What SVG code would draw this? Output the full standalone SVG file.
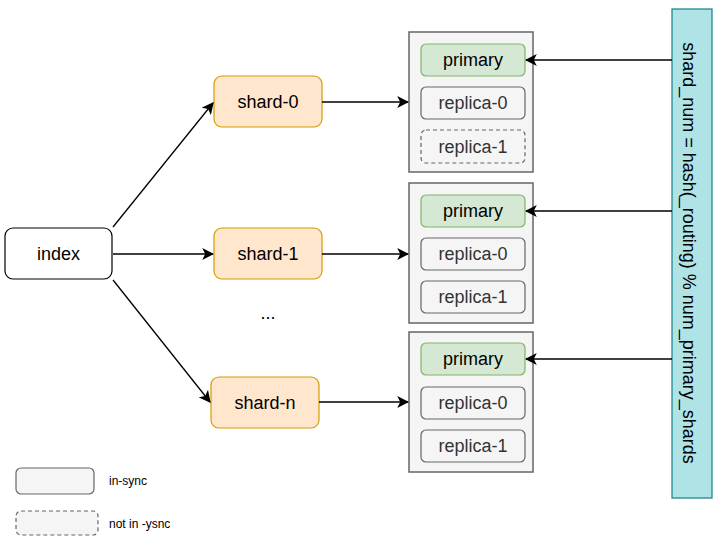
<svg xmlns="http://www.w3.org/2000/svg" width="715" height="541" viewBox="0 0 715 541">
<style>
text{font-family:"Liberation Sans",Arial,Helvetica,sans-serif;font-size:18px;fill:#000;text-anchor:middle;dominant-baseline:central}
.idx{fill:#fff;stroke:#000;stroke-width:1.2}
.shard{fill:#ffe6cc;stroke:#d79b00;stroke-width:1.2}
.panel{fill:#f5f5f5;stroke:#666;stroke-width:1.5}
.prim{fill:#d5e8d4;stroke:#82b366;stroke-width:1.2}
.rep{fill:#f5f5f5;stroke:#666;stroke-width:1.2}
.dash{stroke-dasharray:4 3}
.rt{fill:#333}
.bar{fill:#b0e3e6;stroke:#0e8088;stroke-width:1.2}
.edge{fill:none;stroke:#000;stroke-width:1.3}
.leg{font-size:12px;text-anchor:start}
</style>
<defs>
<marker id="arr" viewBox="0 0 10 10" refX="9" refY="5" markerWidth="12" markerHeight="12" markerUnits="userSpaceOnUse" orient="auto">
<path d="M0,0 L10,5 L0,10 L2.5,5 Z" fill="#000"/>
</marker>
</defs>
<g id="index"><rect class="idx" x="5" y="228" width="107" height="51" rx="8"/><text x="58.5" y="254">index</text></g>
<g id="shard-0"><rect class="shard" x="214" y="76" width="108" height="51" rx="8"/><text x="268" y="102">shard-0</text></g>
<g id="shard-1"><rect class="shard" x="214" y="228" width="108" height="51" rx="8"/><text x="268" y="254">shard-1</text></g>
<g id="dots"><text x="268" y="313">...</text></g>
<g id="shard-n"><rect class="shard" x="211" y="377" width="108" height="51" rx="8"/><text x="265" y="403">shard-n</text></g>
<g id="group-0">
<rect class="panel" x="409" y="32" width="124" height="140"/>
<rect class="prim" x="421" y="44" width="104" height="32" rx="5"/><text x="473" y="60">primary</text>
<rect class="rep" x="421" y="87" width="104" height="32" rx="5"/><text class="rt" x="473" y="103">replica-0</text>
<rect class="rep dash" x="421" y="130" width="104" height="33" rx="5"/><text class="rt" x="473" y="147">replica-1</text>
</g>
<g id="group-1">
<rect class="panel" x="409" y="183" width="124" height="140"/>
<rect class="prim" x="421" y="195" width="104" height="32" rx="5"/><text x="473" y="211">primary</text>
<rect class="rep" x="421" y="238" width="104" height="32" rx="5"/><text class="rt" x="473" y="254">replica-0</text>
<rect class="rep" x="421" y="281" width="104" height="32" rx="5"/><text class="rt" x="473" y="297">replica-1</text>
</g>
<g id="group-n">
<rect class="panel" x="409" y="332" width="124" height="140"/>
<rect class="prim" x="421" y="343" width="104" height="32" rx="5"/><text x="473" y="359">primary</text>
<rect class="rep" x="421" y="387" width="104" height="32" rx="5"/><text class="rt" x="473" y="403">replica-0</text>
<rect class="rep" x="421" y="430" width="104" height="32" rx="5"/><text class="rt" x="473" y="446">replica-1</text>
</g>
<g id="routing">
<rect class="bar" x="672" y="9" width="40" height="489"/>
<text transform="translate(689,253) rotate(90)">shard_num = hash(_routing) % num_primary_shards</text>
</g>
<g id="legend-in-sync"><rect class="rep" x="16" y="468" width="78" height="26" rx="5"/><text class="leg" x="109" y="481">in-sync</text></g>
<g id="legend-not-in-sync"><rect class="rep dash" x="16" y="511" width="82" height="24" rx="5"/><text class="leg" x="109" y="524">not in -ysnc</text></g>
<g id="connectors">
<line class="edge" x1="113" y1="227" x2="213" y2="103" marker-end="url(#arr)"/>
<line class="edge" x1="113" y1="254" x2="213" y2="254" marker-end="url(#arr)"/>
<line class="edge" x1="113" y1="280" x2="210" y2="402" marker-end="url(#arr)"/>
<line class="edge" x1="322" y1="102" x2="408" y2="102" marker-end="url(#arr)"/>
<line class="edge" x1="322" y1="254" x2="408" y2="254" marker-end="url(#arr)"/>
<line class="edge" x1="319" y1="402" x2="408" y2="402" marker-end="url(#arr)"/>
<line class="edge" x1="672" y1="60" x2="526" y2="60" marker-end="url(#arr)"/>
<line class="edge" x1="672" y1="211" x2="526" y2="211" marker-end="url(#arr)"/>
<line class="edge" x1="672" y1="359" x2="526" y2="359" marker-end="url(#arr)"/>
</g>
</svg>
